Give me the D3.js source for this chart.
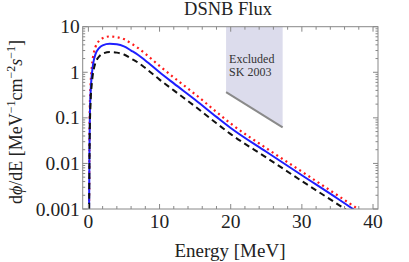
<!DOCTYPE html>
<html>
<head>
<meta charset="utf-8">
<script src="https://cdn.jsdelivr.net/npm/d3@7"></script>
<style>
  body { margin: 0; background: #fff; }
  svg { display: block; font-family: "Liberation Serif", "DejaVu Serif", serif; }
</style>
</head>
<body>
<svg id="chart"></svg>
<script>
// data
const energy = [0.1, 0.15, 0.2, 0.3, 0.5, 0.75, 1, 1.5, 2, 3, 4, 5, 6, 7, 8, 10, 12, 15, 18, 20, 25, 30, 35, 40];
const fluxMid = [0.001, 0.02, 0.1, 0.33, 0.95, 1.8, 2.5, 3.4, 3.9, 4.2, 4.1, 3.7, 3.0, 2.4, 1.82, 1.0, 0.57, 0.25, 0.105, 0.060, 0.018, 0.0055, 0.0017, 0.0005];
const fluxHigh = [0.0015, 0.04, 0.17, 0.5, 1.4, 2.6, 3.6, 4.9, 5.6, 6.1, 5.9, 5.35, 4.3, 3.4, 2.55, 1.38, 0.77, 0.33, 0.135, 0.075, 0.0216, 0.0066, 0.002, 0.0006];
const fluxLow = [0.0006, 0.01, 0.055, 0.2, 0.6, 1.15, 1.62, 2.2, 2.55, 2.77, 2.7, 2.45, 2.0, 1.62, 1.24, 0.69, 0.40, 0.178, 0.076, 0.044, 0.0135, 0.0041, 0.00128, 0.00038];
const excludedE = [19.35, 27.3];
const excludedFlux = [0.365, 0.062];
const xTicks = [0, 10, 20, 30, 40];
const yTicks = [0.001, 0.01, 0.1, 1, 10];
const yTickLabels = ["0.001", "0.01", "0.1", "1", "10"];

const width = 409;
const height = 262;
const margin = { top: 26.7, right: 31, bottom: 53, left: 82.7 };

const svg = d3.select("#chart")
    .attr("width", width)
    .attr("height", height);

const x = d3.scaleLinear()
    .domain([-0.8, 40.7])
    .range([margin.left, width - margin.right]);

const y = d3.scaleLog()
    .domain([0.001, 10])
    .range([height - margin.bottom, margin.top]);

svg.append("defs").append("clipPath").attr("id", "clip")
    .append("rect")
    .attr("x", margin.left).attr("y", margin.top)
    .attr("width", x.range()[1] - margin.left)
    .attr("height", y.range()[0] - margin.top);

// excluded region
const yMax = y.domain()[1];
svg.append("path")
    .attr("d", d3.line()([
        [x(excludedE[0]), y(yMax)],
        [x(excludedE[1]), y(yMax)],
        [x(excludedE[1]), y(excludedFlux[1])],
        [x(excludedE[0]), y(excludedFlux[0])]
    ]))
    .attr("fill", "#dcdcec");

svg.append("line")
    .attr("x1", x(excludedE[0])).attr("y1", y(excludedFlux[0]))
    .attr("x2", x(excludedE[1])).attr("y2", y(excludedFlux[1]))
    .attr("stroke", "#8a8a8a")
    .attr("stroke-width", 2);

svg.append("text")
    .attr("x", x(excludedE[0]) + 3).attr("y", 62.5)
    .attr("font-size", 12).attr("fill", "#333")
    .text("Excluded");
svg.append("text")
    .attr("x", x(excludedE[0]) + 3).attr("y", 75.5)
    .attr("font-size", 12).attr("fill", "#333")
    .text("SK 2003");

// curves
const line = d3.line()
    .x((d, i) => x(energy[i]))
    .y(d => y(d))
    .curve(d3.curveMonotoneX);

const curves = svg.append("g").attr("clip-path", "url(#clip)");

curves.append("path")
    .attr("d", line(fluxHigh))
    .attr("fill", "none")
    .attr("stroke", "#ff1a1a")
    .attr("stroke-width", 2.2)
    .attr("stroke-dasharray", "2,3.5");

curves.append("path")
    .attr("d", line(fluxMid))
    .attr("fill", "none")
    .attr("stroke", "#1f1fff")
    .attr("stroke-width", 2);

curves.append("path")
    .attr("d", line(fluxLow))
    .attr("fill", "none")
    .attr("stroke", "#111")
    .attr("stroke-width", 2)
    .attr("stroke-dasharray", "6,4");

// frame with inward ticks, Mathematica style
const frame = svg.append("g").attr("stroke", "#888").attr("stroke-width", 1);
const x0 = margin.left, x1 = x.range()[1], y0 = y.range()[0], y1 = margin.top;

frame.append("rect")
    .attr("x", x0).attr("y", y1)
    .attr("width", x1 - x0).attr("height", y0 - y1)
    .attr("fill", "none");

const xMinor = d3.range(0, 41, 2).filter(v => !xTicks.includes(v));
xTicks.forEach(v => {
    frame.append("line").attr("x1", x(v)).attr("x2", x(v)).attr("y1", y0).attr("y2", y0 - 5);
    frame.append("line").attr("x1", x(v)).attr("x2", x(v)).attr("y1", y1).attr("y2", y1 + 5);
});
xMinor.forEach(v => {
    frame.append("line").attr("x1", x(v)).attr("x2", x(v)).attr("y1", y0).attr("y2", y0 - 3);
    frame.append("line").attr("x1", x(v)).attr("x2", x(v)).attr("y1", y1).attr("y2", y1 + 3);
});

const yMinor = [];
[0.001, 0.01, 0.1, 1].forEach(d => d3.range(2, 10).forEach(k => yMinor.push(d * k)));
yTicks.forEach(v => {
    frame.append("line").attr("x1", x0).attr("x2", x0 + 5).attr("y1", y(v)).attr("y2", y(v));
    frame.append("line").attr("x1", x1).attr("x2", x1 - 5).attr("y1", y(v)).attr("y2", y(v));
});
yMinor.forEach(v => {
    frame.append("line").attr("x1", x0).attr("x2", x0 + 2.5).attr("y1", y(v)).attr("y2", y(v));
    frame.append("line").attr("x1", x1).attr("x2", x1 - 2.5).attr("y1", y(v)).attr("y2", y(v));
});

// tick labels
svg.append("g").selectAll("text")
    .data(xTicks)
    .join("text")
    .attr("x", d => x(d))
    .attr("y", y0 + 19)
    .attr("text-anchor", "middle")
    .attr("font-size", 19.5)
    .attr("fill", "#222")
    .text(d => d);

svg.append("g").selectAll("text")
    .data(yTicks)
    .join("text")
    .attr("x", x0 - 3)
    .attr("y", d => y(d) + 6.5)
    .attr("text-anchor", "end")
    .attr("font-size", 19.5)
    .attr("fill", "#222")
    .text((d, i) => yTickLabels[i]);

// titles
svg.append("text")
    .attr("x", 228).attr("y", 15)
    .attr("text-anchor", "middle")
    .attr("font-size", 18.5)
    .attr("fill", "#222")
    .text("DSNB Flux");

svg.append("text")
    .attr("x", 230).attr("y", 257)
    .attr("text-anchor", "middle")
    .attr("font-size", 19)
    .attr("fill", "#222")
    .text("Energy [MeV]");

const ylab = svg.append("text")
    .attr("transform", "translate(22,122) rotate(-90)")
    .attr("text-anchor", "middle")
    .attr("font-size", 18)
    .attr("fill", "#222");
ylab.append("tspan").text("d");
ylab.append("tspan").attr("font-style", "italic").text("ϕ");
ylab.append("tspan").text("/dE [MeV");
ylab.append("tspan").attr("dy", -7).attr("font-size", 12).text("−1");
ylab.append("tspan").attr("dy", 7).text("cm");
ylab.append("tspan").attr("dy", -7).attr("font-size", 12).text("−2");
ylab.append("tspan").attr("dy", 7).attr("font-style", "italic").text("s");
ylab.append("tspan").attr("dy", -7).attr("font-size", 12).text("−1");
ylab.append("tspan").attr("dy", 7).text("]");
</script>
</body>
</html>
